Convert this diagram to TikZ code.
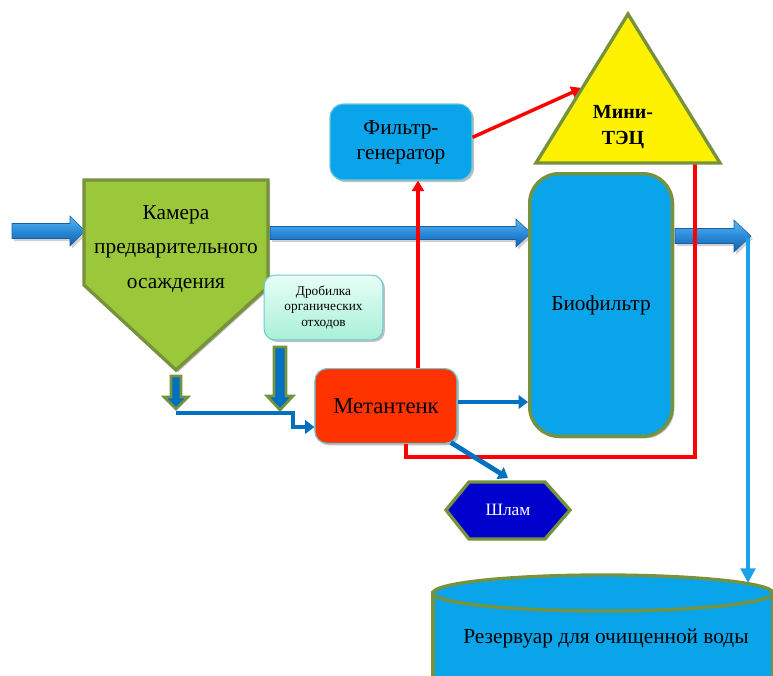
\documentclass[tikz,border=0pt]{standalone}
\usepackage{fontspec}
\setmainfont{Liberation Serif}
\newfontfamily\rmru{Liberation Serif}
\usetikzlibrary{arrows.meta,shadows,calc}
\definecolor{olv}{HTML}{76923C}
\definecolor{grn}{HTML}{9BC83B}
\definecolor{sky}{HTML}{09A4E9}
\definecolor{dblue}{HTML}{0070C0}
\definecolor{lblue}{HTML}{1AA3E8}
\definecolor{mred}{HTML}{FF3300}
\definecolor{tealb}{HTML}{6FC9CF}
\definecolor{hexb}{HTML}{0000CC}
\definecolor{mintA}{HTML}{E8FEF7}
\definecolor{mintB}{HTML}{A8F0D7}
\definecolor{arrT}{HTML}{5BB8F2}
\definecolor{arrM}{HTML}{2A8AD8}
\definecolor{arrB}{HTML}{155FA8}
% horizontal block arrow: x1, x2, yc, shaft half, head half, head length
\newcommand\hblockarrow[6]{%
  \fill[black,opacity=0.18] ($(#1,#3-#4)+(1.5pt,-2pt)$) -- ($(#2-#6,#3-#4)+(1.5pt,-2pt)$) -- ($(#2-#6,#3-#5)+(1.5pt,-2pt)$) -- ($(#2,#3)+(1.5pt,-2pt)$) -- ($(#2-#6,#3+#5)+(1.5pt,-2pt)$) -- ($(#2-#6,#3+#4)+(1.5pt,-2pt)$) -- ($(#1,#3+#4)+(1.5pt,-2pt)$) -- cycle;
  \path[top color=arrT, bottom color=arrB, middle color=arrM, draw=arrB, line width=0.4pt]
    (#1,#3-#4) -- (#2-#6,#3-#4) -- (#2-#6,#3-#5) -- (#2,#3) -- (#2-#6,#3+#5) -- (#2-#6,#3+#4) -- (#1,#3+#4) -- cycle;}
% vertical down block arrow: xc, y1, y2, shaft half, head half, head length
\newcommand\vblockarrow[6]{%
  \path[fill=dblue, draw=olv, line width=2pt]
    (#1-#4,#2) -- (#1+#4,#2) -- (#1+#4,#3-#6) -- (#1+#5,#3-#6) -- (#1,#3) -- (#1-#5,#3-#6) -- (#1-#4,#3-#6) -- cycle;}
\begin{document}
\begin{tikzpicture}[x=0.75pt,y=-0.75pt,
  rbox/.style={rectangle, rounded corners=10pt, align=center, inner sep=2pt},
  redc/.style={draw=red, line width=2.6pt},
  bluec/.style={draw=dblue, line width=3.6pt},
  rtip/.style={-{Triangle[length=8pt,width=9pt]}},
  btip/.style={-{Triangle[length=7pt,width=10pt]}},
  shad/.style={drop shadow={shadow xshift=1.5pt, shadow yshift=-1.5pt, opacity=0.25, fill=black}}]
\useasboundingbox (0,0) rectangle (773,675);
\clip (0,0) rectangle (773,675);

% --- block arrows (main water flow)
\hblockarrow{12}{85}{231}{7.5}{15}{15}
\hblockarrow{270}{531}{233}{6.5}{14}{15}
\hblockarrow{675}{751}{236}{7.5}{16}{17}

% --- named anchor points
\coordinate (tleft) at (582,88);
\coordinate (tribase) at (695,163);
\coordinate (j1) at (176,413);
\coordinate (j2) at (293,413);
\coordinate (shtip) at (508,478);
\coordinate (outtip) at (748,238);
\coordinate (rescap) at (748,583);

% --- nodes (boxes)
\node[rbox, fill=sky, draw=tealb, line width=0.8pt, minimum width=106.5pt, minimum height=57pt,
      rounded corners=10pt, font=\rmru\fontsize{16}{19}\selectfont, shad] (fg) at (401,142) {Фильтр-\\генератор};
\node[rbox, fill=mred, draw=tealb, line width=0.8pt, minimum width=106.5pt, minimum height=56pt,
      rounded corners=9pt, font=\rmru\fontsize{17}{20}\selectfont, shad] (met) at (386,406) {Метантенк};

% --- red connectors
\draw[redc] ([xshift=15pt]met.south) -- ++(0,13) -| (tribase);
\draw[redc, rtip] ([xshift=24pt]met.north) -- ([xshift=24pt]met.north |- fg.south);
\draw[redc, rtip] ([yshift=3.5pt]fg.east) -- (tleft);

% redraw metantenk over the red loop
\node[rbox, fill=mred, draw=tealb, line width=0.8pt, minimum width=106.5pt, minimum height=56pt,
      rounded corners=9pt, font=\rmru\fontsize{17}{20}\selectfont] at (met) {Метантенк};

% --- camera (pentagon)
\path[fill=grn, draw=olv, line width=2.5pt, shad] (84,180) -- (268,180) -- (268,287) -- (176,370) -- (84,285) -- cycle;
\node[align=center, font=\rmru\fontsize{16}{26}\selectfont] (cam) at (176,249) {Камера\\предварительного\\осаждения};
\coordinate (camtip) at (176,370);

% --- biofilter
\node[rbox, fill=sky, draw=olv, line width=2.5pt, minimum width=107pt, minimum height=197pt,
      rounded corners=22pt, font=\rmru\fontsize{16}{19}\selectfont, shad] (bio) at (601,305) {Биофильтр};

% --- mini-TEC triangle
\path[fill=yellow, draw=olv, line width=2.5pt] (628,14) -- (720,163) -- (536,163) -- cycle;
\node[align=center, font=\rmru\bfseries\fontsize{15}{19}\selectfont] (tec) at (623,127) {Мини-\\ТЭЦ};

% --- crusher
\node[rbox, top color=mintA, bottom color=mintB, draw=tealb, line width=0.8pt, minimum width=89pt, minimum height=48.5pt,
      rounded corners=8pt, font=\rmru\fontsize{10}{11.5}\selectfont, shad] (drob) at (323.5,307.5) {Дробилка\\органических\\отходов};

% --- sludge hexagon
\path[fill=hexb, draw=olv, line width=2.5pt] (446,510) -- (469,482) -- (545,482) -- (570,510) -- (545,539) -- (469,539) -- cycle;
\node[text=white, font=\rmru\fontsize{13}{15}\selectfont] (shlam) at (508,510) {Шлам};

% --- reservoir (cylinder)
\path[fill=sky, draw=olv, line width=2.5pt] (433,593) -- (433,700) -- (773,700) -- (773,593) -- cycle;
\path[fill=sky, draw=olv, line width=2.5pt] (603,593) ellipse [x radius=170, y radius=18];
\node[font=\rmru\fontsize{16}{19}\selectfont] (res) at (606,638) {Резервуар для очищенной воды};

% --- down block arrows
\vblockarrow{176}{376}{409}{5}{12}{12}
\vblockarrow{280}{347}{410}{6}{13}{14}

% --- blue connectors
\draw[bluec, btip] (j1) -- (j2) |- ([yshift=-15.75pt]met.west);
\draw[bluec, btip] ([yshift=3pt]met.east) -- ([yshift=3pt]met.east -| bio.west);
\draw[bluec, btip] ([xshift=-5pt,yshift=1pt]met.south east) -- (shtip);
\draw[draw=lblue, line width=2.4pt, -{Triangle[length=11pt,width=11pt]}] (outtip) -- (rescap);
\end{tikzpicture}
\end{document}
